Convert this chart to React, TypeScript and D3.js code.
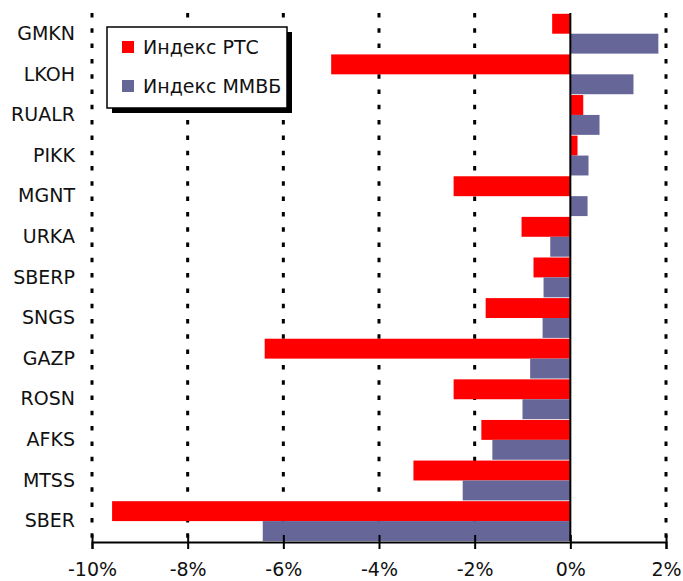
import { useEffect, useRef } from 'react'
import * as d3 from 'd3'

const tickers = ['GMKN', 'LKOH', 'RUALR', 'PIKK', 'MGNT', 'URKA', 'SBERP', 'SNGS', 'GAZP', 'ROSN', 'AFKS', 'MTSS', 'SBER']
const rtsValues = [-0.38, -5.0, 0.27, 0.15, -2.44, -1.02, -0.77, -1.77, -6.39, -2.44, -1.86, -3.28, -9.58]
const micexValues = [1.84, 1.32, 0.61, 0.38, 0.36, -0.42, -0.56, -0.58, -0.84, -1.0, -1.63, -2.25, -6.43]
const xTicks = [-10, -8, -6, -4, -2, 0, 2]
const seriesNames = ['Индекс РТС', 'Индекс ММВБ']

const RED = '#ff0000'
const BLUE = '#666699'

export default function App() {
  const svgRef = useRef<SVGSVGElement>(null)

  useEffect(() => {
    if (!svgRef.current) return
    const svg = d3.select(svgRef.current)
    svg.selectAll('*').remove()

    const width = 683
    const height = 581
    const margin = { top: 13, right: 17, bottom: 40, left: 92 }
    const font = '"DejaVu Sans", Verdana, sans-serif'

    const x = d3.scaleLinear()
      .domain([-10, 2])
      .range([margin.left, width - margin.right])

    const y = d3.scaleBand<string>()
      .domain(tickers)
      .range([margin.top, height - margin.bottom])
      .padding(0)

    const half = y.bandwidth() / 2

    // dotted gridlines
    svg.append('g')
      .selectAll('line')
      .data(xTicks.filter(t => t !== 0))
      .join('line')
      .attr('x1', d => x(d))
      .attr('x2', d => x(d))
      .attr('y1', margin.top)
      .attr('y2', height - margin.bottom)
      .attr('stroke', '#000')
      .attr('stroke-width', 3)
      .attr('stroke-dasharray', '4.5 10.8')

    // bars
    const bars = svg.append('g')
    bars.selectAll('rect.rts')
      .data(tickers)
      .join('rect')
      .attr('class', 'rts')
      .attr('x', (d, i) => x(Math.min(0, rtsValues[i])))
      .attr('width', (d, i) => Math.abs(x(rtsValues[i]) - x(0)))
      .attr('y', d => (y(d) as number) + 0.8)
      .attr('height', half - 0.4)
      .attr('fill', RED)

    bars.selectAll('rect.micex')
      .data(tickers)
      .join('rect')
      .attr('class', 'micex')
      .attr('x', (d, i) => x(Math.min(0, micexValues[i])))
      .attr('width', (d, i) => Math.abs(x(micexValues[i]) - x(0)))
      .attr('y', d => (y(d) as number) + half + 0.4)
      .attr('height', half - 0.4)
      .attr('fill', BLUE)

    // zero line
    svg.append('line')
      .attr('x1', x(0))
      .attr('x2', x(0))
      .attr('y1', margin.top)
      .attr('y2', height - margin.bottom)
      .attr('stroke', '#000')
      .attr('stroke-width', 2)

    // x axis
    const xAxis = d3.axisBottom(x)
      .tickValues(xTicks)
      .tickSize(7)
      .tickFormat(d => `${d}%`)

    svg.append('g')
      .attr('transform', `translate(0,${height - margin.bottom + 1})`)
      .call(xAxis)
      .call(g => g.select('.domain').attr('stroke', '#000').attr('stroke-width', 2))
      .call(g => g.selectAll('.tick line')
        .attr('stroke', '#000')
        .attr('stroke-width', 2)
        .attr('y1', -7))
      .call(g => g.selectAll('.tick text')
        .attr('fill', '#111')
        .attr('y', 21)
        .attr('font-family', font)
        .attr('font-size', '19px'))

    // category labels
    svg.append('g')
      .selectAll('text')
      .data(tickers)
      .join('text')
      .attr('x', 75)
      .attr('y', d => (y(d) as number) + y.bandwidth() / 2)
      .attr('dy', '0.35em')
      .attr('text-anchor', 'end')
      .attr('font-family', font)
      .attr('font-size', '19px')
      .attr('fill', '#111')
      .text(d => d)

    // legend
    const legend = svg.append('g').attr('transform', 'translate(107,27)')
    legend.append('rect')
      .attr('x', 5)
      .attr('y', 5)
      .attr('width', 180)
      .attr('height', 81)
      .attr('fill', '#000')
    legend.append('rect')
      .attr('x', 0)
      .attr('y', 0)
      .attr('width', 180)
      .attr('height', 81)
      .attr('fill', '#fff')
      .attr('stroke', '#000')
      .attr('stroke-width', 1.5)

    const items = legend.selectAll('g.item')
      .data(seriesNames)
      .join('g')
      .attr('class', 'item')
      .attr('transform', (d, i) => `translate(15,${14 + i * 39})`)

    items.append('rect')
      .attr('width', 12)
      .attr('height', 12)
      .attr('fill', (d, i) => (i === 0 ? RED : BLUE))

    items.append('text')
      .attr('x', 21)
      .attr('y', 6)
      .attr('dy', '0.35em')
      .attr('font-family', font)
      .attr('font-size', '19px')
      .attr('fill', '#111')
      .text(d => d)
  }, [])

  return (
    <svg
      ref={svgRef}
      width={683}
      height={581}
      style={{ position: 'absolute', left: 0, top: 0, background: '#fff' }}
    />
  )
}
